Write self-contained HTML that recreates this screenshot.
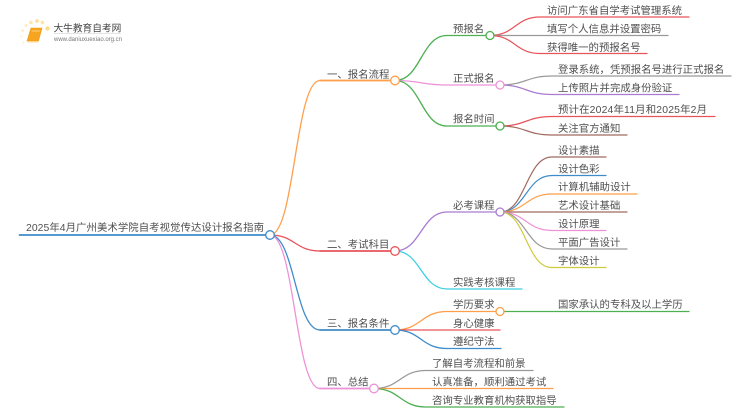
<!DOCTYPE html>
<html lang="zh">
<head>
<meta charset="utf-8">
<style>
html,body{margin:0;padding:0;background:#fff;width:750px;height:410px;overflow:hidden}
svg{display:block;filter:blur(.25px)}
text{font-family:"Liberation Sans","Noto Sans CJK SC",sans-serif;font-size:10.4px;fill:#505050}
path,line{fill:none;stroke-linecap:round}
circle{fill:#fff;stroke-width:1.3}
</style>
</head>
<body>
<svg width="750" height="410" viewBox="0 0 750 410" xmlns="http://www.w3.org/2000/svg">
<!-- logo -->
<g>
<circle cx="47.5" cy="28.5" r="2.2" style="fill:#fcdc8a;stroke:none"/>
<circle cx="42.5" cy="22.5" r="1.9" style="fill:#fde6a8;stroke:none"/>
<circle cx="37" cy="21" r="1.9" style="fill:#fde09a;stroke:none"/>
<circle cx="31" cy="22.5" r="1.8" style="fill:#fde6a8;stroke:none"/>
<circle cx="26" cy="25.5" r="1.5" style="fill:#feecc0;stroke:none"/>
<circle cx="22.5" cy="30.5" r="1.3" style="fill:#feecc0;stroke:none"/>
<circle cx="21.5" cy="36.5" r="1.1" style="fill:#fef0cc;stroke:none"/>
<circle cx="23.5" cy="42.5" r="1" style="fill:#fef0cc;stroke:none"/>
<path d="M31 28 L42 28 L38.5 41 L27 41 Z" style="fill:#f7a520;stroke:#ee9a18;stroke-width:.6"/>
<path d="M27 41 L38.5 41 L38 42.5 L27.5 42.5 Z" style="fill:#fcd890;stroke:none"/>
<line x1="32" y1="31" x2="39.5" y2="31" style="stroke:#fde0a0;stroke-width:.7"/>
<text x="53.5" y="31.5" style="font-size:9.7px;fill:#444">大牛教育自考网</text>
<line x1="54" y1="33.5" x2="121" y2="33.5" style="stroke:#ddd;stroke-width:.7"/>
<text x="54" y="41" textLength="68" lengthAdjust="spacingAndGlyphs" style="font-size:6.2px;fill:#777">www.daniuxuexiao.org.cn</text>
</g>

<!-- root -->
<line x1="19.5" y1="235" x2="266" y2="235" style="stroke:#3E8CC9;stroke-width:1.8"/>
<path d="M270 235 C295 235 295 80.5 320 80.5" style="stroke:#FF9F4A;stroke-width:1.3"/>
<path d="M270 235 C295 235 295 251 320 251" style="stroke:#E8545A;stroke-width:1.3"/>
<path d="M270 235 C295 235 295 330 320 330" style="stroke:#3E8CC9;stroke-width:1.3"/>
<path d="M270 235 C295 235 295 388.5 320 388.5" style="stroke:#EE92D8;stroke-width:1.3"/>

<!-- level 1 lines -->
<line x1="320" y1="80.5" x2="391" y2="80.5" style="stroke:#FF9F4A;stroke-width:1.8"/>
<line x1="320" y1="251" x2="391" y2="251" style="stroke:#E8545A;stroke-width:1.8"/>
<line x1="320" y1="330" x2="391" y2="330" style="stroke:#3E8CC9;stroke-width:1.8"/>
<line x1="320" y1="388.5" x2="370" y2="388.5" style="stroke:#EE92D8;stroke-width:1.8"/>

<!-- level 2 curves -->
<path d="M395 80.5 C421 80.5 421 35.5 447 35.5 H486" style="stroke:#4CAF50;stroke-width:1.3"/>
<path d="M395 80.5 C421 80.5 421 85 447 85 H496" style="stroke:#EE92D8;stroke-width:1.3"/>
<path d="M395 80.5 C421 80.5 421 126 447 126 H496" style="stroke:#4CAF50;stroke-width:1.3"/>
<path d="M395 251 C421 251 421 212 447 212 H496" style="stroke:#A97BD1;stroke-width:1.3"/>
<path d="M395 251 C421 251 421 289 447 289 H522" style="stroke:#3CCFE0;stroke-width:1.3"/>
<path d="M395 330 C421 330 421 311.5 447 311.5 H496" style="stroke:#FF9F4A;stroke-width:1.3"/>
<path d="M395 330 H500" style="stroke:#E8545A;stroke-width:1.3"/>
<path d="M395 330 C421 330 421 348.5 447 348.5 H501" style="stroke:#3E8CC9;stroke-width:1.3"/>
<path d="M374 388.5 C400 388.5 400 370.5 426 370.5 H533" style="stroke:#999;stroke-width:1.3"/>
<path d="M374 388.5 H553" style="stroke:#FF9F4A;stroke-width:1.3"/>
<path d="M374 388.5 C400 388.5 400 407 426 407 H564" style="stroke:#4CAF50;stroke-width:1.3"/>

<!-- level 3 -->
<path d="M490 35.5 C515 35.5 515 17 540 17 H689" style="stroke:#E8545A;stroke-width:1.2"/>
<path d="M490 35.5 H668" style="stroke:#999;stroke-width:1.2"/>
<path d="M490 35.5 C515 35.5 515 53.5 540 53.5 H647" style="stroke:#E8545A;stroke-width:1.2"/>
<path d="M500 85 C526 85 526 76 552 76 H731" style="stroke:#999;stroke-width:1.2"/>
<path d="M500 85 C526 85 526 94.5 552 94.5 H679" style="stroke:#A97BD1;stroke-width:1.2"/>
<path d="M500 126 C526 126 526 116.5 552 116.5 H715" style="stroke:#E8545A;stroke-width:1.2"/>
<path d="M500 126 C526 126 526 135 552 135 H627" style="stroke:#A0695F;stroke-width:1.2"/>
<path d="M500 212 C526 212 526 157 552 157 H606" style="stroke:#A0695F;stroke-width:1.2"/>
<path d="M500 212 C526 212 526 175.5 552 175.5 H606" style="stroke:#3E8CC9;stroke-width:1.2"/>
<path d="M500 212 C526 212 526 194 552 194 H637" style="stroke:#FF9F4A;stroke-width:1.2"/>
<path d="M500 212 H627" style="stroke:#A0695F;stroke-width:1.2"/>
<path d="M500 212 C526 212 526 230.5 552 230.5 H606" style="stroke:#EE92D8;stroke-width:1.2"/>
<path d="M500 212 C526 212 526 249 552 249 H627" style="stroke:#999;stroke-width:1.2"/>
<path d="M500 212 C526 212 526 267.5 552 267.5 H606" style="stroke:#CFCB3F;stroke-width:1.2"/>
<path d="M500 311.5 H689" style="stroke:#4CAF50;stroke-width:1.2"/>

<!-- nodes -->
<circle cx="270" cy="235" r="4.3" style="stroke:#3E8CC9"/>
<circle cx="395" cy="80.5" r="4.3" style="stroke:#FF9F4A"/>
<circle cx="395" cy="251" r="4.3" style="stroke:#E8545A"/>
<circle cx="395" cy="330" r="4.3" style="stroke:#3E8CC9"/>
<circle cx="374" cy="388.5" r="4.3" style="stroke:#EE92D8"/>
<circle cx="490" cy="35.5" r="4" style="stroke:#4CAF50"/>
<circle cx="500" cy="85" r="4" style="stroke:#EE92D8"/>
<circle cx="500" cy="126" r="4" style="stroke:#4CAF50"/>
<circle cx="500" cy="212" r="4" style="stroke:#A97BD1"/>
<circle cx="500" cy="311.5" r="4" style="stroke:#FF9F4A"/>

<!-- labels -->
<text x="26" y="231" textLength="238">2025年4月广州美术学院自考视觉传达设计报名指南</text>
<text x="327" y="78">一、报名流程</text>
<text x="327" y="248">二、考试科目</text>
<text x="327" y="327">三、报名条件</text>
<text x="327" y="385.5">四、总结</text>
<text x="453" y="32.5">预报名</text>
<text x="453" y="82">正式报名</text>
<text x="453" y="122.5">报名时间</text>
<text x="453" y="209">必考课程</text>
<text x="453" y="286">实践考核课程</text>
<text x="453" y="308">学历要求</text>
<text x="453" y="327">身心健康</text>
<text x="453" y="345">遵纪守法</text>
<text x="432" y="367">了解自考流程和前景</text>
<text x="432" y="385.5">认真准备，顺利通过考试</text>
<text x="432" y="404">咨询专业教育机构获取指导</text>
<text x="547" y="14">访问广东省自学考试管理系统</text>
<text x="547" y="32.5">填写个人信息并设置密码</text>
<text x="547" y="51">获得唯一的预报名号</text>
<text x="558" y="73">登录系统，凭预报名号进行正式报名</text>
<text x="558" y="91.5">上传照片并完成身份验证</text>
<text x="558" y="113" textLength="149">预计在2024年11月和2025年2月</text>
<text x="558" y="132">关注官方通知</text>
<text x="558" y="154">设计素描</text>
<text x="558" y="172.5">设计色彩</text>
<text x="558" y="190.5">计算机辅助设计</text>
<text x="558" y="209">艺术设计基础</text>
<text x="558" y="227.5">设计原理</text>
<text x="558" y="246">平面广告设计</text>
<text x="558" y="264.5">字体设计</text>
<text x="558" y="308">国家承认的专科及以上学历</text>
</svg>
</body>
</html>
